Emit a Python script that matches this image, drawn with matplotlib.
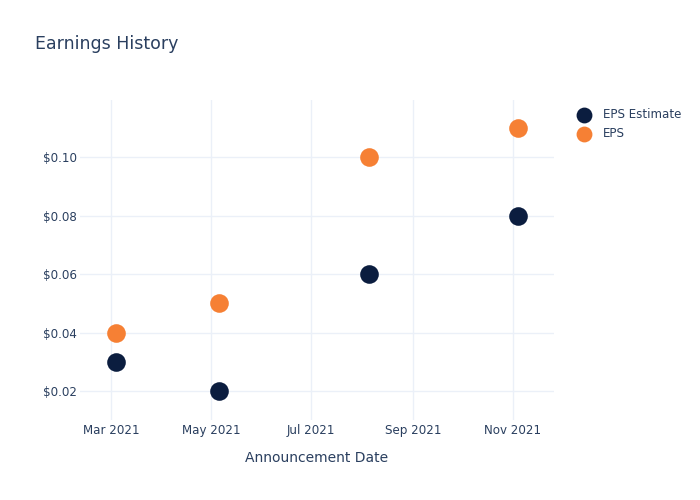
import numpy as np
import matplotlib.pyplot as plt
import matplotlib.dates as mdates
from datetime import datetime

# data
dates = ["2021-03-04", "2021-05-06", "2021-08-05", "2021-11-04"]
eps_estimate = [0.03, 0.02, 0.06, 0.08]
eps_actual = [0.04, 0.05, 0.10, 0.11]

x = [datetime.strptime(d, "%Y-%m-%d") for d in dates]

text_col = "#2a3f5f"
navy = "#0b1d3f"
orange = "#f68034"

fig = plt.figure(figsize=(7, 5), dpi=100)
ax = fig.add_axes([80 / 700, 0.16, (554 - 80) / 700, 0.64])

ax.scatter(x, eps_estimate, s=180, color=navy, label="EPS Estimate", zorder=3, linewidths=0)
ax.scatter(x, eps_actual, s=180, color=orange, label="EPS", zorder=3, linewidths=0)

ax.set_xlim(datetime(2021, 2, 10), datetime(2021, 11, 26))
ax.set_ylim(0.0101, 0.1195)

ax.xaxis.set_major_locator(mdates.MonthLocator(bymonth=[3, 5, 7, 9, 11]))
ax.xaxis.set_major_formatter(mdates.DateFormatter("%b %Y"))
ax.set_yticks([0.02, 0.04, 0.06, 0.08, 0.10])
ax.yaxis.set_major_formatter(plt.FuncFormatter(lambda v, p: f"${v:.2f}"))

ax.grid(True, color="#ebf0f8", linewidth=1)
ax.set_axisbelow(True)
for s in ax.spines.values():
    s.set_visible(False)
ax.tick_params(length=0, colors=text_col, labelsize=8.6)
ax.tick_params(axis="y", pad=2)
ax.tick_params(axis="x", pad=3)

ax.set_xlabel("Announcement Date", color=text_col, fontsize=10, labelpad=10)
fig.text(0.05, 0.912, "Earnings History", color=text_col, fontsize=12.5, va="center")

leg = ax.legend(loc="upper left", bbox_to_anchor=(1.02, 1.0), frameon=False,
                fontsize=8.6, labelcolor=text_col, handletextpad=0.6, borderaxespad=0.3,
                labelspacing=0.5, markerscale=0.85)

fig.savefig("out.png", dpi=100)
